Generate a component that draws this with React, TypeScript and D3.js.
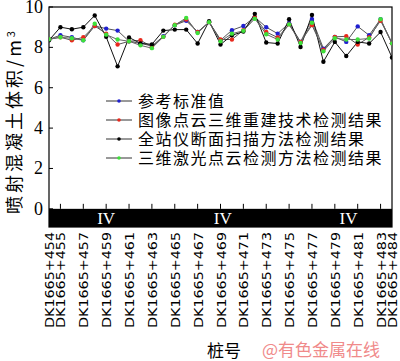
import { useEffect, useRef } from "react";
import * as d3 from "d3";

const stations = [454, 455, 456, 457, 458, 459, 460, 461, 462, 463, 464, 465, 466, 467, 468, 469, 470, 471, 472, 473, 474, 475, 476, 477, 478, 479, 480, 481, 482, 483, 484];
const tickStations = [454, 455, 457, 459, 461, 463, 465, 467, 469, 471, 473, 475, 477, 479, 481, 483, 484];
const bandTicks = [455, 457, 459, 461, 463, 465, 467, 469, 471, 473, 475, 477, 479, 481, 483];
const gradeLabels = [
  { at: 459, text: "IV" },
  { at: 469.2, text: "IV" },
  { at: 480.2, text: "IV" },
];

const reference = [8.4, 8.6, 8.5, 8.35, 9.06, 8.93, 8.83, 8.3, 8.2, 8.07, 8.55, 9.1, 9.32, 8.76, 9.25, 8.35, 8.85, 9.06, 9.5, 9.0, 8.68, 9.2, 8.27, 9.4, 7.94, 8.52, 8.27, 9.04, 8.6, 9.4, 8.2];
const imageCloud = [8.4, 8.5, 8.35, 8.5, 9.06, 8.68, 8.14, 8.3, 8.35, 8.03, 8.52, 9.12, 9.38, 8.76, 9.25, 8.39, 8.39, 8.85, 9.5, 8.76, 8.49, 9.14, 8.27, 9.1, 7.88, 8.52, 8.55, 8.14, 8.5, 9.32, 8.2];
const totalStation = [8.35, 9.0, 8.9, 9.0, 9.58, 8.52, 7.06, 8.49, 8.2, 8.15, 8.83, 8.88, 8.88, 8.19, 9.3, 8.14, 8.6, 8.78, 9.66, 8.24, 8.19, 9.39, 8.02, 9.6, 7.29, 8.27, 7.57, 8.27, 8.19, 8.76, 7.5];
const laserCloud = [8.4, 8.5, 8.45, 8.35, 9.17, 8.63, 8.39, 8.3, 8.1, 7.96, 8.52, 9.1, 9.46, 8.71, 9.25, 8.3, 8.68, 8.82, 9.42, 8.65, 8.39, 9.14, 8.22, 9.22, 7.81, 8.45, 8.39, 8.39, 8.44, 9.39, 8.2];

const yTicks = [0, 2, 4, 6, 8, 10];

const series = [
  { name: "参考标准值", values: reference, line: "#555", dot: "#1f1fd0" },
  { name: "图像点云三维重建技术检测结果", values: imageCloud, line: "#555", dot: "#e8281c" },
  { name: "全站仪断面扫描方法检测结果", values: totalStation, line: "#111", dot: "#000" },
  { name: "三维激光点云检测方法检测结果", values: laserCloud, line: "#666", dot: "#3ee03a" },
];

export default function App() {
  const svgRef = useRef(null);

  useEffect(() => {
    const svg = d3.select(svgRef.current);
    svg.selectAll("*").remove();

    const left = 49;
    const right = 392;
    const top = 7;
    const bottom = 227;

    const x = d3.scaleLinear().domain([454, 484]).range([left, right]);
    const y = d3.scaleLinear().domain([-0.9, 10]).range([bottom, top]);

    svg
      .append("defs")
      .append("clipPath")
      .attr("id", "plotClip")
      .append("rect")
      .attr("x", left)
      .attr("y", top)
      .attr("width", right - left)
      .attr("height", bottom - top);

    // black grade band
    svg
      .append("rect")
      .attr("x", left)
      .attr("y", y(0))
      .attr("width", right - left)
      .attr("height", bottom - y(0))
      .attr("fill", "#000");

    svg
      .selectAll(".grade")
      .data(gradeLabels)
      .enter()
      .append("text")
      .attr("x", (d) => x(d.at))
      .attr("y", (y(0) + bottom) / 2 + 6)
      .attr("text-anchor", "middle")
      .attr("fill", "#fff")
      .attr("font-family", "Liberation Serif")
      .attr("font-size", 17)
      .text((d) => d.text);

    svg
      .selectAll(".bt")
      .data(bandTicks)
      .enter()
      .append("line")
      .attr("x1", (d) => x(d))
      .attr("x2", (d) => x(d))
      .attr("y1", y(0))
      .attr("y2", y(0) - 5)
      .attr("stroke", "#000");

    // frame
    svg
      .append("rect")
      .attr("x", left)
      .attr("y", top)
      .attr("width", right - left)
      .attr("height", bottom - top)
      .attr("fill", "none")
      .attr("stroke", "#000")
      .attr("stroke-width", 1.2);

    // y ticks
    svg
      .selectAll(".yt")
      .data(yTicks)
      .enter()
      .append("line")
      .attr("x1", left)
      .attr("x2", left + 4)
      .attr("y1", (d) => y(d))
      .attr("y2", (d) => y(d))
      .attr("stroke", "#000");

    svg
      .selectAll(".yl")
      .data(yTicks)
      .enter()
      .append("text")
      .attr("x", left - 6)
      .attr("y", (d) => y(d) + 6)
      .attr("text-anchor", "end")
      .attr("font-family", "Liberation Serif")
      .attr("font-size", 18)
      .text((d) => d);

    svg
      .append("text")
      .attr("transform", `translate(21,${(top + bottom) / 2 + 4}) rotate(-90)`)
      .attr("text-anchor", "middle")
      .attr("font-family", "Noto Sans CJK SC")
      .attr("font-size", 18)
      .attr("letter-spacing", 3)
      .text("喷射混凝土体积/m")
      .append("tspan")
      .attr("font-size", 11)
      .attr("dy", -6)
      .text("3");

    // x tick labels
    svg
      .selectAll(".xl")
      .data(tickStations)
      .enter()
      .append("text")
      .attr("transform", (d) => `translate(${x(d) + 5},232) rotate(-90)`)
      .attr("text-anchor", "end")
      .attr("font-family", "DejaVu Sans Condensed, DejaVu Sans")
      .attr("font-size", 12.5)
      .attr("textLength", 96)
      .attr("lengthAdjust", "spacingAndGlyphs")
      .text((d) => `DK1665+${d}`);

    svg
      .append("text")
      .attr("x", 224)
      .attr("y", 357)
      .attr("text-anchor", "middle")
      .attr("font-family", "Noto Sans CJK SC")
      .attr("font-size", 17)
      .text("桩号");

    svg
      .append("text")
      .attr("x", 262)
      .attr("y", 356)
      .attr("font-family", "Noto Sans CJK SC")
      .attr("font-size", 17)
      .attr("fill", "#f08a8a")
      .text("@有色金属在线");

    // series
    const plot = svg.append("g").attr("clip-path", "url(#plotClip)");
    const line = d3
      .line()
      .x((d, i) => x(stations[i]))
      .y((d) => y(d));

    series.forEach((s) => {
      plot
        .append("path")
        .attr("d", line(s.values))
        .attr("fill", "none")
        .attr("stroke", s.line)
        .attr("stroke-width", 1);
    });
    series.forEach((s) => {
      plot
        .selectAll(null)
        .data(s.values)
        .enter()
        .append("circle")
        .attr("cx", (d, i) => x(stations[i]))
        .attr("cy", (d) => y(d))
        .attr("r", 2.2)
        .attr("fill", s.dot);
    });

    // legend
    const legend = svg.append("g");
    series.forEach((s, i) => {
      const ly = 101 + i * 19;
      legend
        .append("line")
        .attr("x1", 106)
        .attr("x2", 132)
        .attr("y1", ly)
        .attr("y2", ly)
        .attr("stroke", "#333");
      legend
        .append("circle")
        .attr("cx", 119)
        .attr("cy", ly)
        .attr("r", 1.8)
        .attr("fill", s.dot);
      legend
        .append("text")
        .attr("x", 138)
        .attr("y", ly + 6)
        .attr("font-family", "Noto Sans CJK SC")
        .attr("font-size", 16)
        .attr("letter-spacing", 1.5)
        .text(s.name);
    });
  }, []);

  return (
    <svg
      ref={svgRef}
      width={400}
      height={361}
      style={{ position: "absolute", left: 0, top: 0, background: "#fff" }}
    />
  );
}
